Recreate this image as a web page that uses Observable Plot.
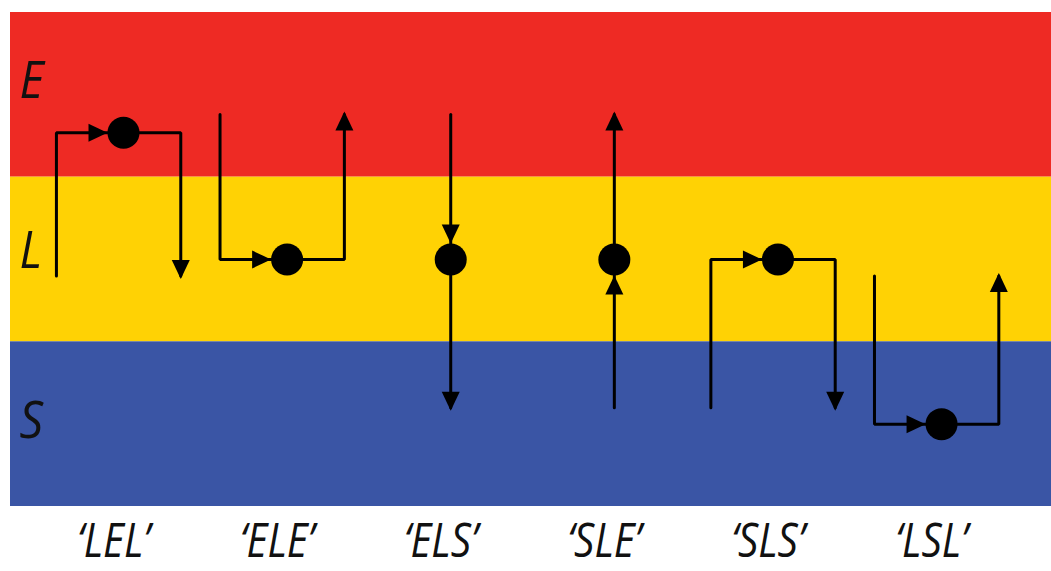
<!DOCTYPE html>
<html><head><meta charset="utf-8">
<script src="https://cdn.jsdelivr.net/npm/d3@7"></script>
<script src="https://cdn.jsdelivr.net/npm/@observablehq/plot@0.6"></script>
<style>body{margin:0;background:#fff;}</style>
</head><body><div id="chart"></div>
<script>
// ---- data ----
const states = ["E", "L", "S"];
const bandLow = [2, 1, 0];
const bandHigh = [3, 2, 1];
const bandColors = ["#ee2a24", "#ffd204", "#3a55a5"];
const dotLevel = [2.27, 1.5, 0.5];     // where the middle state sits
const endLevel = [2.38, 1.4, 0.6];     // where a path starts / ends in a state
const labelLevel = [2.58, 1.55, 0.52]; // state label heights
const motifs = ["LEL", "ELE", "ELS", "SLE", "SLS", "LSL"];

// ---- build marks' tables ----
const bands = states.map((s, i) => ({state: s, y1: bandLow[i], y2: bandHigh[i], color: bandColors[i]}));
const LOFF = -0.41, ROFF = 0.35;
const pts = [], dots = [], arrows = [];
motifs.forEach((m, i) => {
  const [a, b, c] = m.split("").map(s => states.indexOf(s));
  const yb = dotLevel[b];
  if (a === c) {
    pts.push({id: i * 2, x: i + LOFF, y: endLevel[a]}, {id: i * 2, x: i + LOFF, y: yb}, {id: i * 2, x: i, y: yb});
    pts.push({id: i * 2 + 1, x: i, y: yb}, {id: i * 2 + 1, x: i + ROFF, y: yb}, {id: i * 2 + 1, x: i + ROFF, y: endLevel[c]});
    arrows.push({x: i, y: yb, kind: "dotRight"});
    arrows.push({x: i + ROFF, y: endLevel[c], kind: endLevel[c] > yb ? "endUp" : "endDown"});
  } else {
    pts.push({id: i * 2, x: i, y: endLevel[a]}, {id: i * 2, x: i, y: yb});
    pts.push({id: i * 2 + 1, x: i, y: yb}, {id: i * 2 + 1, x: i, y: endLevel[c]});
    arrows.push({x: i, y: yb, kind: endLevel[a] > yb ? "dotDown" : "dotUp"});
    arrows.push({x: i, y: endLevel[c], kind: endLevel[c] > yb ? "endUp" : "endDown"});
  }
  dots.push({x: i, y: yb});
});

// arrowhead symbols
function tri(tipY, dir) {
  const P = [[0, tipY], [9, tipY + 19], [-9, tipY + 19]];
  const rot = {up: p => p, down: p => [-p[0], -p[1]], right: p => [-p[1], p[0]]}[dir];
  return {draw(ctx) {
    const q = P.map(rot);
    ctx.moveTo(q[0][0], q[0][1]); ctx.lineTo(q[1][0], q[1][1]); ctx.lineTo(q[2][0], q[2][1]); ctx.closePath();
  }};
}
const symbols = {
  endUp: tri(-3, "up"), endDown: tri(-3, "down"),
  dotUp: tri(16, "up"), dotDown: tri(16, "down"), dotRight: tri(16, "right")
};

const plot = Plot.plot({
  width: 1051, height: 571,
  marginLeft: 10, marginRight: 0, marginTop: 12, marginBottom: 65,
  x: {domain: [-0.6907, 5.672], axis: null},
  y: {domain: [0, 3], axis: null},
  color: {type: "identity"},
  marks: [
    Plot.rect(bands, {y1: "y1", y2: "y2", fill: "color"}),
    Plot.line(pts, {x: "x", y: "y", z: "id", stroke: "#000", strokeWidth: 3, strokeLinejoin: "miter", curve: "linear"}),
    ...Object.keys(symbols).map(k => Plot.dot(arrows.filter(d => d.kind === k), {x: "x", y: "y", symbol: symbols[k], fill: "#000", stroke: "none"})),
    Plot.dot(dots, {x: "x", y: "y", r: 16, fill: "#000"}),
    Plot.text(states, {frameAnchor: "left", y: (d, i) => labelLevel[i], text: d => d, textAnchor: "start", dx: 9,
      fontSize: 52, fontStyle: "italic", fontFamily: "Open Sans", fill: "#111", className: "state-label"}),
    Plot.text(motifs, {x: (d, i) => i, frameAnchor: "bottom", text: d => `\u2018${d}\u2019`, dx: -10, dy: 50,
      fontSize: 48, fontStyle: "italic", fontFamily: "Open Sans", fill: "#111", className: "motif-label"})
  ]
});
document.getElementById("chart").appendChild(plot);
// narrow the glyphs horizontally, as in the reference
function squeeze(sel, k) {
  d3.select(plot).selectAll(sel).each(function () {
    const w = this.getComputedTextLength();
    d3.select(this).attr("textLength", w * k).attr("lengthAdjust", "spacingAndGlyphs");
  });
}
squeeze(".motif-label text", 0.84);
squeeze(".state-label text", 0.9);
</script>
</body></html>
